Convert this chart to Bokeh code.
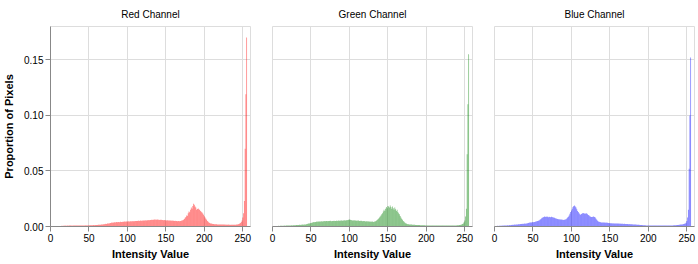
import numpy as np
from bokeh.plotting import figure
from bokeh.layouts import row
from bokeh.models import Range1d, FixedTicker, NumeralTickFormatter, ColumnDataSource
from bokeh.embed import file_html
from bokeh.resources import INLINE

# ---- data: proportion of pixels per intensity value (in units of 1e-4) ----
intensity = list(range(256))

red_e4 = [
    2, 1, 2, 2, 3, 2, 3, 3, 4, 3, 4, 5, 4, 5, 6, 5,
    6, 7, 6, 8, 7, 7, 8, 7, 8, 8, 9, 8, 7, 8, 9, 8,
    8, 9, 8, 9, 10, 9, 8, 9, 10, 9, 10, 10, 9, 10, 11, 10,
    10, 11, 10, 11, 12, 11, 12, 12, 13, 12, 13, 14, 13, 14, 15, 15,
    16, 15, 17, 18, 19, 20, 21, 22, 24, 23, 26, 28, 27, 30, 32, 33,
    35, 34, 37, 38, 36, 39, 40, 38, 41, 40, 39, 42, 41, 40, 43, 42,
    44, 43, 45, 46, 44, 47, 46, 45, 48, 47, 46, 49, 48, 47, 50, 49,
    50, 49, 51, 52, 50, 53, 52, 51, 54, 53, 55, 54, 56, 55, 57, 56,
    58, 57, 59, 60, 58, 61, 60, 62, 61, 63, 60, 62, 61, 60, 59, 61,
    60, 58, 59, 57, 58, 56, 57, 55, 56, 54, 55, 53, 54, 52, 53, 51,
    52, 50, 51, 49, 50, 48, 49, 50, 48, 49, 51, 53, 56, 60, 68, 78,
    85, 100, 96, 120, 135, 128, 150, 170, 160, 185, 205, 196, 180, 172, 150, 158,
    162, 155, 148, 140, 132, 125, 118, 105, 92, 80, 70, 60, 50, 42, 36, 31,
    28, 26, 24, 23, 22, 21, 21, 20, 20, 19, 19, 18, 19, 18, 18, 17,
    17, 18, 17, 16, 17, 16, 16, 17, 16, 15, 16, 15, 16, 15, 15, 16,
    15, 16, 17, 18, 20, 22, 26, 32, 40, 55, 80, 120, 230, 700, 1190, 1700,
]

green_e4 = [
    3, 3, 4, 4, 5, 4, 5, 5, 6, 5, 6, 6, 7, 6, 7, 7,
    8, 7, 8, 9, 8, 9, 10, 9, 10, 11, 10, 11, 12, 11, 12, 13,
    13, 14, 13, 15, 14, 16, 15, 17, 16, 18, 17, 19, 20, 22, 24, 26,
    28, 30, 32, 34, 36, 38, 40, 39, 41, 42, 44, 43, 45, 44, 46, 45,
    47, 46, 48, 47, 49, 48, 50, 49, 48, 50, 49, 51, 50, 48, 50, 49,
    51, 50, 49, 52, 51, 50, 53, 52, 51, 54, 53, 52, 55, 54, 56, 55,
    57, 56, 58, 60, 62, 61, 59, 57, 55, 54, 56, 53, 55, 52, 54, 51,
    53, 50, 52, 49, 51, 48, 50, 47, 49, 46, 48, 45, 47, 44, 46, 43,
    45, 42, 44, 41, 43, 45, 48, 52, 58, 65, 72, 80, 90, 100, 110, 120,
    135, 150, 140, 160, 175, 165, 185, 180, 170, 190, 175, 160, 180, 165, 150, 170,
    155, 140, 150, 130, 120, 110, 95, 82, 70, 60, 50, 42, 36, 30, 26, 23,
    21, 20, 19, 18, 17, 17, 16, 16, 15, 15, 14, 14, 14, 13, 13, 13,
    12, 12, 12, 11, 11, 11, 11, 10, 10, 10, 10, 10, 10, 9, 9, 9,
    9, 9, 9, 9, 9, 9, 8, 8, 8, 8, 8, 8, 8, 8, 8, 8,
    8, 8, 8, 8, 8, 8, 8, 8, 8, 9, 9, 9, 9, 9, 10, 10,
    11, 11, 12, 13, 14, 16, 18, 22, 28, 38, 55, 90, 160, 650, 1100, 1550,
]

blue_e4 = [
    4, 4, 5, 5, 6, 5, 6, 7, 6, 7, 8, 7, 8, 9, 8, 9,
    10, 11, 10, 12, 13, 12, 14, 15, 14, 16, 17, 16, 18, 19, 18, 20,
    21, 20, 22, 23, 24, 23, 25, 26, 25, 27, 28, 30, 32, 34, 36, 35,
    37, 38, 40, 39, 41, 43, 45, 47, 50, 52, 55, 60, 66, 72, 78, 82,
    86, 90, 88, 85, 89, 87, 84, 88, 86, 83, 87, 85, 82, 80, 78, 75,
    72, 70, 68, 66, 65, 64, 63, 62, 61, 60, 59, 60, 62, 66, 72, 80,
    88, 100, 115, 130, 145, 160, 175, 185, 190, 180, 170, 155, 140, 130, 120, 110,
    105, 112, 118, 122, 120, 117, 115, 120, 116, 110, 104, 98, 92, 88, 85, 86,
    88, 90, 86, 80, 70, 60, 52, 46, 42, 40, 38, 37, 36, 35, 36, 35,
    34, 35, 34, 33, 32, 31, 30, 30, 29, 28, 29, 28, 27, 28, 27, 26,
    27, 26, 25, 26, 25, 24, 25, 24, 23, 24, 23, 22, 23, 22, 21, 22,
    21, 20, 21, 20, 19, 18, 18, 17, 17, 16, 16, 15, 15, 14, 14, 13,
    13, 12, 12, 11, 11, 10, 10, 10, 9, 9, 9, 8, 8, 8, 8, 8,
    8, 8, 8, 8, 8, 8, 8, 8, 8, 8, 8, 8, 8, 8, 8, 8,
    8, 8, 9, 9, 9, 9, 10, 10, 10, 11, 11, 12, 12, 13, 13, 14,
    15, 16, 17, 18, 19, 20, 22, 24, 28, 34, 50, 80, 150, 520, 1000, 1520,
]

titles = ["Red Channel", "Green Channel", "Blue Channel"]
colors = ["red", "green", "blue"]
x_ticks = [0, 50, 100, 150, 200, 250]
y_ticks = [0, 0.05, 0.10, 0.15]
x_title = "Intensity Value"
y_title = "Proportion of Pixels"

FONT = "Liberation Sans"


def make_panel(i, vals_e4):
    left = 48 if i == 0 else 12
    right = 6 if i == 2 else 10
    p = figure(
        frame_width=200, frame_height=200,
        x_range=Range1d(0, 260), y_range=Range1d(0, 0.18),
        output_backend="svg", toolbar_location=None,
        min_border_left=left, min_border_right=right,
        min_border_top=26, min_border_bottom=37,
        title=titles[i],
    )
    src = ColumnDataSource(dict(x=intensity, top=np.array(vals_e4) / 1e4))
    p.vbar(x="x", top="top", width=1, source=src, fill_color=colors[i],
           fill_alpha=0.5, line_color=None)

    p.title.align = "center"
    p.title.text_font = FONT
    p.title.text_font_size = "10px"
    p.title.text_font_style = "normal"
    p.title.text_color = "black"
    p.title.standoff = 13

    p.outline_line_color = "#dddddd"
    p.background_fill_color = "white"
    p.border_fill_color = "white"

    p.xgrid.ticker = FixedTicker(ticks=x_ticks)
    p.ygrid.ticker = FixedTicker(ticks=y_ticks)
    p.grid.grid_line_color = "#dddddd"
    p.grid.grid_line_width = 1

    xa = p.xaxis[0]
    xa.ticker = FixedTicker(ticks=x_ticks)
    xa.axis_label = x_title
    xa.axis_label_text_font = FONT
    xa.axis_label_text_font_size = "11px"
    xa.axis_label_text_font_style = "bold"
    xa.axis_label_text_color = "black"
    xa.axis_label_standoff = 3
    xa.major_label_text_font = FONT
    xa.major_label_text_font_size = "10px"
    xa.major_label_text_color = "black"
    xa.major_label_standoff = 2
    xa.axis_line_color = "#888888"
    xa.major_tick_line_color = "#888888"
    xa.major_tick_out = 5
    xa.major_tick_in = 0
    xa.minor_tick_line_color = None

    ya = p.yaxis[0]
    if i == 0:
        ya.ticker = FixedTicker(ticks=y_ticks)
        ya.formatter = NumeralTickFormatter(format="0.00")
        ya.axis_label = y_title
        ya.axis_label_text_font = FONT
        ya.axis_label_text_font_size = "11px"
        ya.axis_label_text_font_style = "bold"
        ya.axis_label_text_color = "black"
        ya.axis_label_standoff = 6
        ya.major_label_text_font = FONT
        ya.major_label_text_font_size = "10px"
        ya.major_label_text_color = "black"
        ya.major_label_standoff = 2
        ya.axis_line_color = "#888888"
        ya.major_tick_line_color = "#888888"
        ya.major_tick_out = 5
        ya.major_tick_in = 0
        ya.minor_tick_line_color = None
    else:
        ya.visible = False
    return p


panels = [make_panel(i, v) for i, v in enumerate([red_e4, green_e4, blue_e4])]
layout = row(*panels, spacing=0)

open("out.html", "w").write(file_html(layout, INLINE))
